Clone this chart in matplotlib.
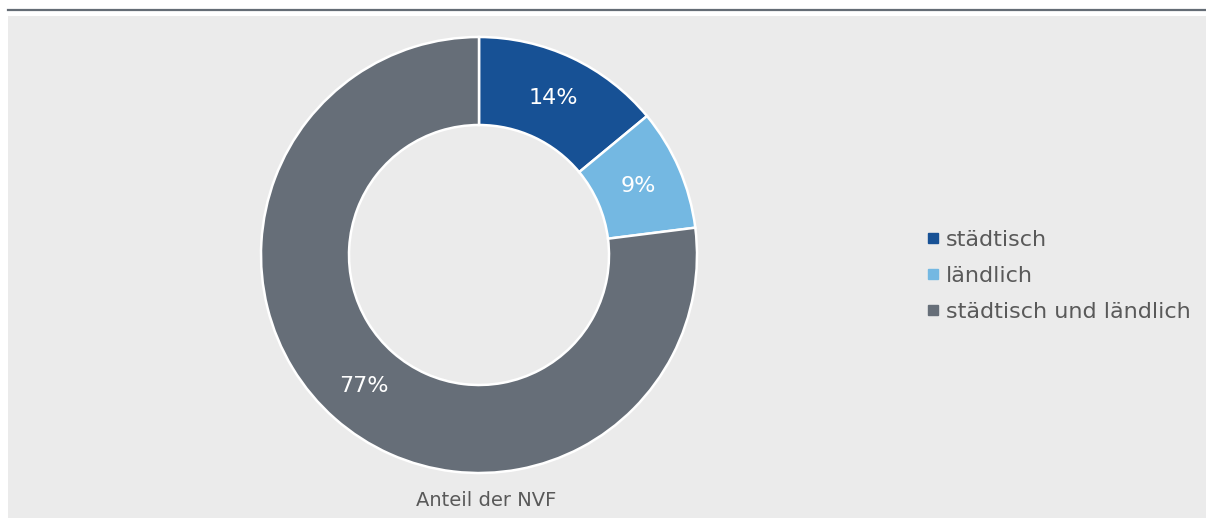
import matplotlib
matplotlib.use("Agg")
import matplotlib.pyplot as plt
from matplotlib.patches import Rectangle
from matplotlib.lines import Line2D

categories = ["städtisch", "ländlich", "städtisch und ländlich"]
values = [14, 9, 77]
colors = ["#175195", "#74b8e2", "#666e78"]
caption = "Anteil der NVF"

W, H = 1206, 518
fig = plt.figure(figsize=(W / 100, H / 100), dpi=100, facecolor="white")

# background panel and top rule
fig.patches.append(Rectangle((8 / W, 0), (W - 8) / W, (H - 16) / H,
                             transform=fig.transFigure, facecolor="#ebebeb",
                             edgecolor="none", zorder=-10))
fig.lines.append(Line2D([8 / W, 1], [1 - 10 / H, 1 - 10 / H],
                        transform=fig.transFigure, color="#646c75", lw=1.6))

R = 218
cx, cy = 479, 255
ax = fig.add_axes([(cx - R) / W, (H - cy - R) / H, 2 * R / W, 2 * R / H])
ax.set_zorder(5)

wedges, texts, autotexts = ax.pie(
    values, colors=colors, startangle=90, counterclock=False, radius=1,
    wedgeprops=dict(width=88 / R, edgecolor="white", linewidth=1.8),
    autopct=lambda p: f"{p:.0f}%", pctdistance=(1 + (R - 88) / R) / 2,
    textprops=dict(color="white", fontsize=16))
ax.set_xlim(-1, 1)
ax.set_ylim(-1, 1)
ax.set_aspect("equal")
ax.axis("off")

fig.text((cx + 7) / W, 1 - 500 / H, caption, ha="center", va="center",
         fontsize=14, color="#595959")

handles = [Line2D([], [], marker="s", linestyle="none", markersize=7,
                  markerfacecolor=c, markeredgecolor=c) for c in colors]
fig.legend(handles, categories, loc="center left",
           bbox_to_anchor=(916 / W, 1 - 276 / H), frameon=False,
           fontsize=16, labelcolor="#595959", handlelength=0.5,
           handletextpad=0.35, labelspacing=0.72, borderpad=0)

fig.savefig("out.png", dpi=100, facecolor="white")
